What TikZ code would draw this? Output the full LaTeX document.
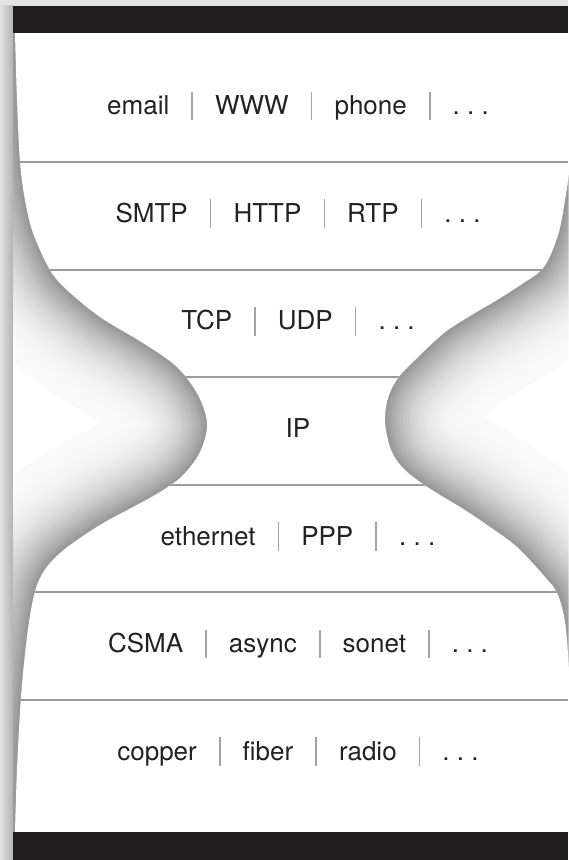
\documentclass[tikz,border=0pt]{standalone}
\usepackage{fontspec}
\setmainfont{TeX Gyre Heros}
\usetikzlibrary{positioning}

\definecolor{barblack}{HTML}{231F20}
\definecolor{rulegray}{HTML}{9B9B9B}
\definecolor{sepgray}{HTML}{A3A3A3}
\definecolor{inkgray}{HTML}{222222}
\definecolor{framegray}{HTML}{E3E3E3}

\newcommand{\divbar}{\hspace{0.85em}{\color{sepgray}\rule[-0.22em]{0.8pt}{1.1em}}\hspace{0.85em}}
\newcommand{\more}{.\ .\ .}
% outline of the hourglass, in pixels
\def\leftpts{(15,33) (17,100) (20,162) (25,200) (33,233) (50,270) (67,290) (100,317) (143,343) (177,367) (198,395) (207,422) (203,445) (194,462) (180,478) (160,492) (135,506) (105,522) (80,538) (60,553) (46,568) (37,585) (31,610) (26,645) (21,697) (17,770) (15,832)}
\def\rightpts{(572,832) (570,700) (566,630) (558,595) (545,577) (517,547) (490,527) (465,510) (440,495) (420,482) (403,468) (391,450) (385,422) (388,398) (398,378) (415,360) (444,333) (470,316) (497,300) (522,284) (544,267) (558,235) (565,200) (570,162) (572,100) (572,33)}
\edef\leftcurve{plot[smooth, tension=0.55] coordinates {\leftpts}}
\edef\rightcurve{plot[smooth, tension=0.55] coordinates {\rightpts}}
\edef\hourglass{plot[smooth, tension=0.55] coordinates {\leftpts} -- plot[smooth, tension=0.55] coordinates {\rightpts} -- cycle}

\begin{document}
\begin{tikzpicture}[x=0.5pt, y=-0.5pt, node distance=53.8pt,
            layer/.style={inner sep=0pt, text height=0.88em, text depth=0.22em, text=inkgray, font=\fontsize{13}{15}\selectfont},
            divider/.style={rulegray, line width=1.4pt},
            bars/.style={fill=barblack}
        ]
            \useasboundingbox (0,0) rectangle (568,860);

            % Frame and panel
            \fill[framegray] (0,0) rectangle (568,860);
            \shade[left color=framegray, right color=black!30] (0,6) rectangle (13,860);
            \fill[white] (13,6) rectangle (568,860);

            % Shadow round the hourglass
            \begin{scope}
                \clip (13,33) rectangle (568,832);
                \foreach \i in {0,...,29} {
                    \pgfmathsetmacro{\w}{90-3*\i}
                    \pgfmathsetmacro{\c}{2+38*(\i/29)^2.5}
                    \draw[line width=\w pt, black!\c, line join=round] \leftcurve \rightcurve;
                }
            \end{scope}
            \fill[white] \hourglass;

            % Layer lines
            \begin{scope}
                \clip \hourglass;
                \foreach \y in {162,270,377,485,592,700}
                    \draw[divider] (0,\y) -- (568,\y);
            \end{scope}

            % Top and bottom bars
            \fill[bars] (13,6) rectangle (568,33);
            \fill[bars] (13,832) rectangle (568,860);

            % Nodes
            \node[layer] (l1) at (298,108) {email\divbar WWW\divbar phone\divbar\more};
            \node[layer, below of = l1] (l2) {SMTP\divbar HTTP\divbar RTP\divbar\more};
            \node[layer, below of = l2] (l3) {TCP\divbar UDP\divbar\more};
            \node[layer, below of = l3] (l4) {IP};
            \node[layer, below of = l4] (l5) {ethernet\divbar PPP\divbar\more};
            \node[layer, below of = l5] (l6) {CSMA\divbar async\divbar sonet\divbar\more};
            \node[layer, below of = l6] (l7) {copper\divbar fiber\divbar radio\divbar\more};
        \end{tikzpicture}
\end{document}
